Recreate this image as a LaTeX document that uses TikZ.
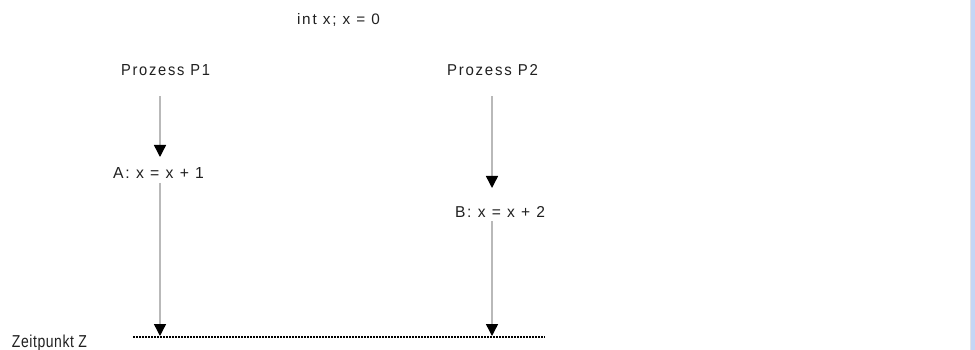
\documentclass[tikz,border=0pt]{standalone}
\usepackage{fontspec}
\setmainfont{Liberation Sans}[LetterSpace=12]
\newfontfamily\tightfont{Liberation Sans}[LetterSpace=4]
\usepackage{graphicx}
\usetikzlibrary{arrows.meta,calc}
\definecolor{linegray}{RGB}{185,185,185}
\definecolor{txtcol}{RGB}{32,32,32}
\definecolor{stripblue}{RGB}{197,214,245}
\definecolor{stripedge}{RGB}{228,228,228}
\newcommand{\fitbox}[3][11pt]{\resizebox{#2}{#1}{#3}}
\tikzset{
  lbl/.style={inner sep=0pt, outer sep=0pt, anchor=base west, text=txtcol, font=\fontsize{12}{14}\selectfont},
  arr/.style={draw=linegray, line width=1.4pt, -{Triangle[width=12pt,length=12pt,color=black]}},
  dotline/.style={draw=black, line width=1.2pt, dash pattern=on 2pt off 1pt}
}
\begin{document}
\begin{tikzpicture}[x=1pt,y=-1pt]
\useasboundingbox (0,0) rectangle (975,350);
\fill[white] (0,0) rectangle (975,350);
\fill[stripedge] (969.5,0) rectangle (971,350);
\fill[stripblue] (971,0) rectangle (975,350);

\node[lbl] (init) at (297,25) {\fitbox{83pt}{int x; x = 0}};
\node[lbl] (p1) at (121,76) {\fitbox{89pt}{Prozess P1}};
\node[lbl] (p2) at (447,76) {\fitbox{91pt}{Prozess P2}};
\node[lbl] (a) at (113,179) {\fitbox{91pt}{A: x = x + 1}};
\node[lbl] (b) at (455,217) {\fitbox{90pt}{B: x = x + 2}};
\node[lbl, font=\fontsize{12}{14}\tightfont] (z) at (12,347) {\fitbox[12.5pt]{75pt}{Zeitpunkt Z}};

\coordinate (t1) at (160,157);
\coordinate (t2) at (160,336);
\coordinate (t3) at (492,188);
\coordinate (t4) at (492,336);
\coordinate (zl) at (133,337);
\coordinate (zr) at (545,337);

\draw[arr] ($(p1.south -| t1)+(0,20)$) -- (t1);
\draw[arr] ($(a.south -| t2)+(0,4)$) -- (t2);
\draw[arr] ($(p2.south -| t3)+(0,20)$) -- (t3);
\draw[arr] ($(b.south -| t4)+(0,4)$) -- (t4);
\draw[dotline] (zl) -- (zr);
\end{tikzpicture}
\end{document}
